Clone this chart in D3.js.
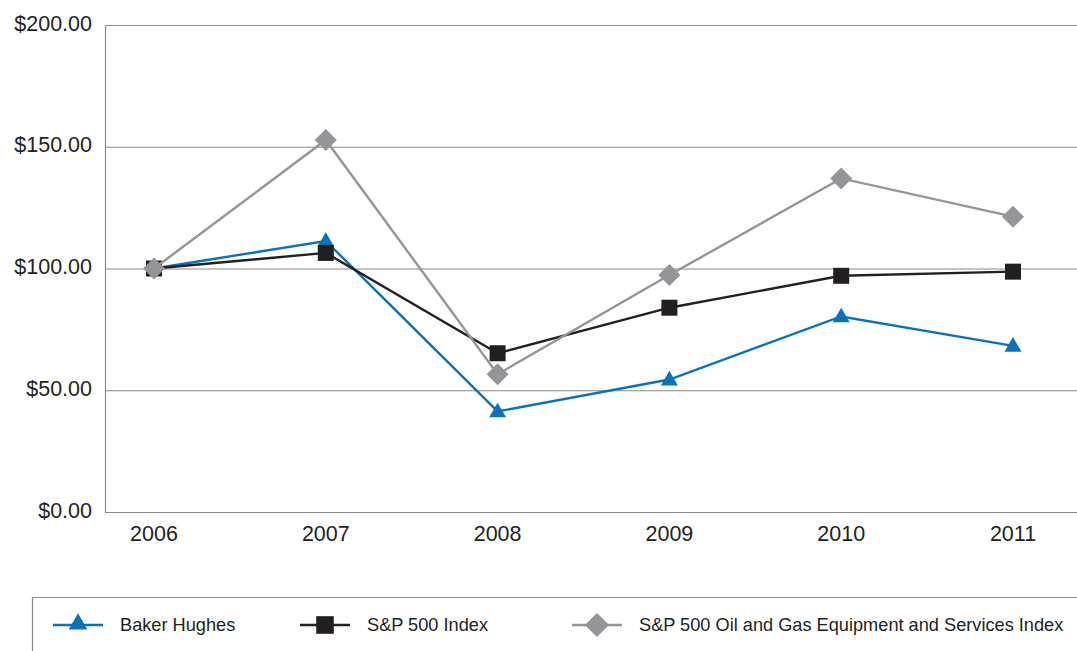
<!DOCTYPE html>
<html>
<head>
  <title>Five-Year Cumulative Return</title>
  <script src="https://d3js.org/d3.v7.min.js"></script>
  <style>
    body { margin: 0; background: #fff; }
    text { font-family: "Liberation Sans", Arial, sans-serif; fill: #231f20; }
  </style>
</head>
<body>
  <svg id="chart" width="1077" height="651"></svg>

  <script>
    // Data
    var years = ["2006", "2007", "2008", "2009", "2010", "2011"];
    var bakerHughes = [100, 111.3, 41.3, 54.4, 80.3, 68.2];
    var sp500 = [100, 106.4, 65.2, 83.9, 97.0, 98.7];
    var oilGas = [100, 152.8, 56.6, 97.3, 137.0, 121.3];
    var yTicks = [0, 50, 100, 150, 200];

    var series = [
      { name: "Baker Hughes", values: bakerHughes, color: "#0a72ba", marker: "triangle" },
      { name: "S&P 500 Index", values: sp500, color: "#231f20", marker: "square" },
      { name: "S&P 500 Oil and Gas Equipment and Services Index", values: oilGas, color: "#939598", marker: "diamond" }
    ];

    var svg = d3.select("#chart");

    // Plot area
    var plotLeft = 105, plotRight = 1077, plotTop = 25, plotBottom = 512;

    var xScale = d3.scalePoint()
      .domain(years)
      .range([154, 1013]);

    var yScale = d3.scaleLinear()
      .domain([0, 200])
      .range([plotBottom, plotTop]);

    // Grid lines
    svg.append("g")
      .selectAll("line")
      .data(yTicks)
      .enter()
      .append("line")
      .attr("x1", plotLeft)
      .attr("x2", plotRight)
      .attr("y1", function(d) { return yScale(d) + 0.5; })
      .attr("y2", function(d) { return yScale(d) + 0.5; })
      .attr("stroke", "#8a8a8a")
      .attr("stroke-width", 1.2);

    // Left axis line
    svg.append("line")
      .attr("x1", plotLeft + 0.5)
      .attr("x2", plotLeft + 0.5)
      .attr("y1", plotTop)
      .attr("y2", plotBottom + 1)
      .attr("stroke", "#8a8a8a")
      .attr("stroke-width", 1.2);

    // Y tick labels
    svg.append("g")
      .selectAll("text")
      .data(yTicks)
      .enter()
      .append("text")
      .attr("x", 92)
      .attr("y", function(d) { return yScale(d) - 2; })
      .attr("dy", "0.35em")
      .attr("text-anchor", "end")
      .attr("font-size", "21.5px")
      .text(function(d) { return "$" + d3.format(".2f")(d); });

    // X tick labels
    svg.append("g")
      .selectAll("text")
      .data(years)
      .enter()
      .append("text")
      .attr("x", function(d) { return xScale(d); })
      .attr("y", 541)
      .attr("text-anchor", "middle")
      .attr("font-size", "21.5px")
      .text(function(d) { return d; });

    // Marker shapes
    function markerPath(type, k) {
      k = k || 1;
      if (type === "triangle") return d3.symbol().type(d3.symbolTriangle).size(125 * k * k)();
      if (type === "square") return d3.symbol().type(d3.symbolSquare).size(256 * k * k)();
      return "M0," + (-11 * k) + "L" + (11 * k) + ",0L0," + (11 * k) + "L" + (-11 * k) + ",0Z";
    }

    var line = d3.line()
      .x(function(d, i) { return xScale(years[i]); })
      .y(function(d) { return yScale(d); });

    series.forEach(function(s) {
      var g = svg.append("g");
      g.append("path")
        .datum(s.values)
        .attr("d", line)
        .attr("fill", "none")
        .attr("stroke", s.color)
        .attr("stroke-width", 2.4);
      g.selectAll("path.marker")
        .data(s.values)
        .enter()
        .append("path")
        .attr("class", "marker")
        .attr("transform", function(d, i) {
          var dy = s.marker === "triangle" ? 1 : 0;
          return "translate(" + xScale(years[i]) + "," + (yScale(d) + dy) + ")";
        })
        .attr("d", markerPath(s.marker))
        .attr("fill", s.color);
    });

    // Legend box
    var legend = svg.append("g");
    legend.append("path")
      .attr("d", "M32.5,660V597.5H1080")
      .attr("fill", "none")
      .attr("stroke", "#8a8a8a")
      .attr("stroke-width", 1.2);

    var legendX = [53, 300, 572];
    series.forEach(function(s, i) {
      var x0 = legendX[i], ly = 625;
      legend.append("line")
        .attr("x1", x0).attr("x2", x0 + 50)
        .attr("y1", ly).attr("y2", ly)
        .attr("stroke", s.color)
        .attr("stroke-width", 2.4);
      legend.append("path")
        .attr("transform", "translate(" + (x0 + 25) + "," + (ly + (s.marker === "triangle" ? -1 : 0)) + ")")
        .attr("d", markerPath(s.marker, 1.1))
        .attr("fill", s.color);
      legend.append("text")
        .attr("x", x0 + 67)
        .attr("y", ly)
        .attr("dy", "0.35em")
        .attr("font-size", "18.2px")
        .text(s.name);
    });
  </script>
</body>
</html>
